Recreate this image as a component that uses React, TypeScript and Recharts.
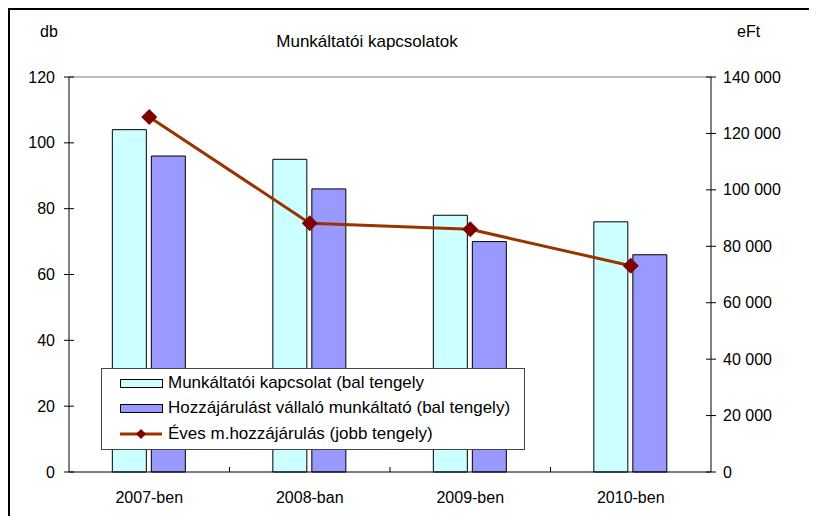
import React from "react";
import {
  ComposedChart,
  Bar,
  Line,
  XAxis,
  YAxis,
  ReferenceLine,
} from "recharts";

const categories = ["2007-ben", "2008-ban", "2009-ben", "2010-ben"];
const kapcsolat = [104, 95, 78, 76];
const vallalo = [96, 86, 70, 66];
const evesHozzajarulas = [125800, 88200, 86000, 73100];

const leftTicks = [0, 20, 40, 60, 80, 100, 120];
const rightTicks = [0, 20000, 40000, 60000, 80000, 100000, 120000, 140000];

const data = categories.map((c, i) => ({
  name: c,
  kapcsolat: kapcsolat[i],
  vallalo: vallalo[i],
  eves: evesHozzajarulas[i],
}));

const FONT = '"Liberation Sans", Arial, sans-serif';
const BAND = 642 / 4;

const fmtThousands = (v: number) =>
  String(v).replace(/\B(?=(\d{3})+(?!\d))/g, " ");

const LeftTick = (props: any) => {
  const { x, y, payload } = props;
  return (
    <g>
      <line x1={x - 5} x2={x + 5} y1={y} y2={y} stroke="#000" />
      <text x={x - 14} y={y} dy="0.35em" textAnchor="end" fontSize={16} fontFamily={FONT} fill="#000">
        {payload.value}
      </text>
    </g>
  );
};

const RightTick = (props: any) => {
  const { x, y, payload } = props;
  return (
    <g>
      <line x1={x - 5} x2={x + 5} y1={y} y2={y} stroke="#000" />
      <text x={x + 12} y={y} dy="0.35em" textAnchor="start" fontSize={16} fontFamily={FONT} fill="#000">
        {fmtThousands(payload.value)}
      </text>
    </g>
  );
};

const BottomTick = (props: any) => {
  const { x, y, payload, index } = props;
  return (
    <g>
      {index > 0 && (
        <line x1={x - BAND / 2} x2={x - BAND / 2} y1={y} y2={y - 5} stroke="#000" />
      )}
      <text x={x} y={y + 25} dy="0.35em" textAnchor="middle" fontSize={16} fontFamily={FONT} fill="#000">
        {payload.value}
      </text>
    </g>
  );
};

const Diamond = (props: any) => {
  const { cx, cy } = props;
  if (cx == null || cy == null) return null;
  const r = 8;
  return (
    <path
      d={`M${cx},${cy - r}L${cx + r},${cy}L${cx},${cy + r}L${cx - r},${cy}Z`}
      fill="#800000"
    />
  );
};

const legendItems = [
  { label: "Munkáltatói kapcsolat (bal tengely", type: "bar", color: "#CCFFFF" },
  { label: "Hozzájárulást vállaló munkáltató (bal tengely)", type: "bar", color: "#9999FF" },
  { label: "Éves m.hozzájárulás (jobb tengely)", type: "line", color: "#993300" },
];

const LegendBox = () => (
  <div
    style={{
      position: "absolute",
      left: 93,
      top: 360,
      width: 424,
      height: 82,
      boxSizing: "border-box",
      border: "1px solid #444",
      background: "#fff",
      fontFamily: FONT,
      fontSize: 17,
      paddingTop: 1,
    }}
  >
    {legendItems.map((it) => (
      <div key={it.label} style={{ display: "flex", alignItems: "center", height: 25.5 }}>
        <svg width={66} height={14} style={{ flex: "none" }}>
          {it.type === "bar" ? (
            <rect x={18.5} y={3.5} width={42} height={8} fill={it.color} stroke="#000" />
          ) : (
            <g>
              <line x1={18} x2={60} y1={7} y2={7} stroke={it.color} strokeWidth={3} />
              <path d="M39,2L44,7L39,12L34,7Z" fill="#800000" />
            </g>
          )}
        </svg>
        <span style={{ whiteSpace: "nowrap" }}>{it.label}</span>
      </div>
    ))}
  </div>
);

export default function App() {
  return (
    <div
      style={{
        position: "relative",
        width: 801,
        height: 508,
        fontFamily: FONT,
        background: "#fff",
      }}
    >
      <svg
        width={801}
        height={508}
        style={{ position: "absolute", left: 0, top: 0 }}
      >
        <path d="M1,508V1H801" fill="none" stroke="#000" strokeWidth={2} />
      </svg>
      <div style={{ position: "absolute", left: 32, top: 15, fontSize: 16 }}>db</div>
      <div style={{ position: "absolute", left: 729, top: 15, fontSize: 16 }}>eFt</div>
      <div
        style={{
          position: "absolute",
          left: 0,
          width: 718,
          top: 24,
          textAlign: "center",
          fontSize: 17,
        }}
      >
        Munkáltatói kapcsolatok
      </div>
      <div style={{ position: "absolute", left: 0, top: 0 }}>
        <ComposedChart
          width={801}
          height={508}
          data={data}
          margin={{ top: 69, right: 0, bottom: 0, left: 0 }}
          barGap={5}
          barCategoryGap="27%"
        >
          <XAxis
            dataKey="name"
            height={44}
            axisLine={{ stroke: "#000" }}
            tickLine={false}
            tickSize={0}
            tickMargin={0}
            tick={<BottomTick />}
            interval={0}
          />
          <YAxis
            yAxisId="left"
            width={61}
            domain={[0, 120]}
            ticks={leftTicks}
            axisLine={{ stroke: "#000" }}
            tickLine={false}
            tickSize={0}
            tickMargin={0}
            tick={<LeftTick />}
            interval={0}
          />
          <YAxis
            yAxisId="right"
            orientation="right"
            width={98}
            domain={[0, 140000]}
            ticks={rightTicks}
            axisLine={{ stroke: "#000" }}
            tickLine={false}
            tickSize={0}
            tickMargin={0}
            tick={<RightTick />}
            interval={0}
          />
          <ReferenceLine yAxisId="left" y={120} stroke="#808080" />
          <Bar
            yAxisId="left"
            dataKey="kapcsolat"
            name="Munkáltatói kapcsolat (bal tengely"
            fill="#CCFFFF"
            stroke="#000"
            isAnimationActive={false}
          />
          <Bar
            yAxisId="left"
            dataKey="vallalo"
            name="Hozzájárulást vállaló munkáltató (bal tengely)"
            fill="#9999FF"
            stroke="#000"
            isAnimationActive={false}
          />
          <Line
            yAxisId="right"
            dataKey="eves"
            name="Éves m.hozzájárulás (jobb tengely)"
            stroke="#993300"
            strokeWidth={3}
            dot={<Diamond />}
            activeDot={false}
            isAnimationActive={false}
          />
        </ComposedChart>
      </div>
      <LegendBox />
    </div>
  );
}
